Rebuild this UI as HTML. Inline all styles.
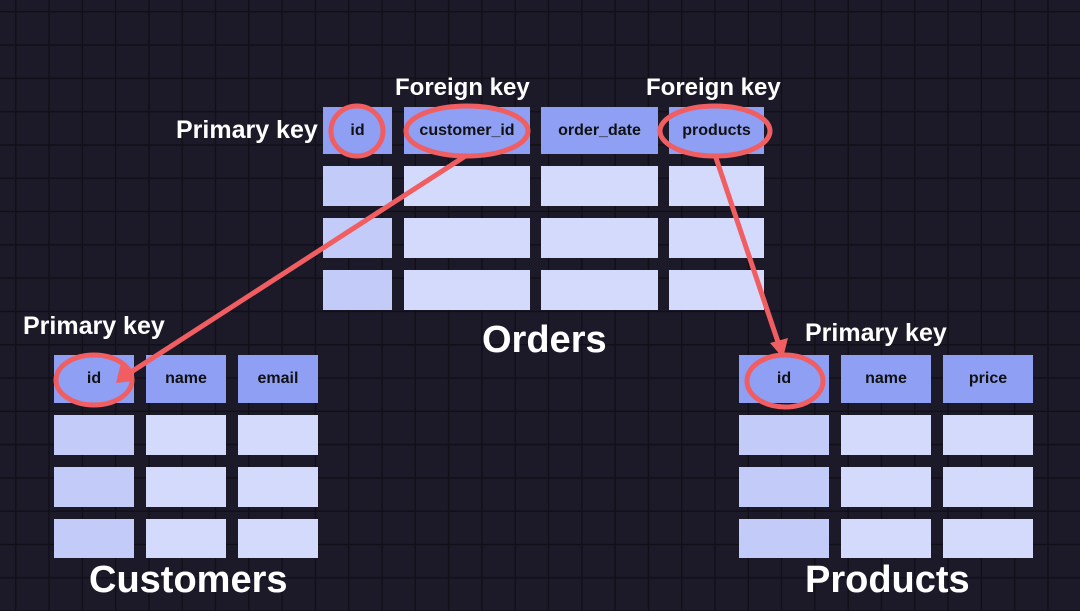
<!DOCTYPE html>
<html><head><style>
body{margin:0;width:1080px;height:611px;overflow:hidden;background:#1c1a28;
background-image:linear-gradient(#111018 1.5px,transparent 1.5px),linear-gradient(90deg,#111018 1.5px,transparent 1.5px);
background-size:33.3px 33.3px;background-position:15px 11px;font-family:"Liberation Sans",sans-serif;position:relative}
.c{position:absolute;background:#d3dafc}
.f{background:#c3cbf8}
.h{background:#8e9ff4;display:flex;align-items:center;justify-content:center;font-weight:bold;font-size:16px;color:#111}
.t{position:absolute;color:#fff;font-weight:bold;white-space:nowrap}
</style></head><body>
<!-- Orders -->
<div class="c h" style="left:323px;top:107px;width:69px;height:47px">id</div>
<div class="c h" style="left:404px;top:107px;width:126px;height:47px">customer_id</div>
<div class="c h" style="left:541px;top:107px;width:117px;height:47px">order_date</div>
<div class="c h" style="left:669px;top:107px;width:95px;height:47px">products</div>
<div class="c f" style="left:323px;top:166px;width:69px;height:40px"></div><div class="c" style="left:404px;top:166px;width:126px;height:40px"></div><div class="c" style="left:541px;top:166px;width:117px;height:40px"></div><div class="c" style="left:669px;top:166px;width:95px;height:40px"></div>
<div class="c f" style="left:323px;top:218px;width:69px;height:40px"></div><div class="c" style="left:404px;top:218px;width:126px;height:40px"></div><div class="c" style="left:541px;top:218px;width:117px;height:40px"></div><div class="c" style="left:669px;top:218px;width:95px;height:40px"></div>
<div class="c f" style="left:323px;top:270px;width:69px;height:40px"></div><div class="c" style="left:404px;top:270px;width:126px;height:40px"></div><div class="c" style="left:541px;top:270px;width:117px;height:40px"></div><div class="c" style="left:669px;top:270px;width:95px;height:40px"></div>
<!-- Customers -->
<div class="c h" style="left:54px;top:355px;width:80px;height:48px">id</div>
<div class="c h" style="left:146px;top:355px;width:80px;height:48px">name</div>
<div class="c h" style="left:238px;top:355px;width:80px;height:48px">email</div>
<div class="c f" style="left:54px;top:415px;width:80px;height:40px"></div><div class="c" style="left:146px;top:415px;width:80px;height:40px"></div><div class="c" style="left:238px;top:415px;width:80px;height:40px"></div>
<div class="c f" style="left:54px;top:467px;width:80px;height:40px"></div><div class="c" style="left:146px;top:467px;width:80px;height:40px"></div><div class="c" style="left:238px;top:467px;width:80px;height:40px"></div>
<div class="c f" style="left:54px;top:519px;width:80px;height:39px"></div><div class="c" style="left:146px;top:519px;width:80px;height:39px"></div><div class="c" style="left:238px;top:519px;width:80px;height:39px"></div>
<!-- Products -->
<div class="c h" style="left:739px;top:355px;width:90px;height:48px">id</div>
<div class="c h" style="left:841px;top:355px;width:90px;height:48px">name</div>
<div class="c h" style="left:943px;top:355px;width:90px;height:48px">price</div>
<div class="c f" style="left:739px;top:415px;width:90px;height:40px"></div><div class="c" style="left:841px;top:415px;width:90px;height:40px"></div><div class="c" style="left:943px;top:415px;width:90px;height:40px"></div>
<div class="c f" style="left:739px;top:467px;width:90px;height:40px"></div><div class="c" style="left:841px;top:467px;width:90px;height:40px"></div><div class="c" style="left:943px;top:467px;width:90px;height:40px"></div>
<div class="c f" style="left:739px;top:519px;width:90px;height:39px"></div><div class="c" style="left:841px;top:519px;width:90px;height:39px"></div><div class="c" style="left:943px;top:519px;width:90px;height:39px"></div>
<!-- labels -->
<div class="t" style="left:395px;top:74px;font-size:24px">Foreign key</div>
<div class="t" style="left:646px;top:74px;font-size:24px">Foreign key</div>
<div class="t" style="left:176px;top:116px;font-size:25px">Primary key</div>
<div class="t" style="left:23px;top:312px;font-size:25px">Primary key</div>
<div class="t" style="left:805px;top:319px;font-size:25px">Primary key</div>
<div class="t" style="left:482px;top:319px;font-size:38px">Orders</div>
<div class="t" style="left:89px;top:559px;font-size:38px">Customers</div>
<div class="t" style="left:805px;top:559px;font-size:38px">Products</div>
<svg width="1080" height="611" style="position:absolute;left:0;top:0">
<g fill="none" stroke="#f05e62" stroke-width="5">
<ellipse cx="357" cy="131" rx="26" ry="25"/>
<ellipse cx="467" cy="131" rx="61" ry="25"/>
<ellipse cx="715" cy="131" rx="55" ry="25"/>
<ellipse cx="94" cy="380" rx="38" ry="25"/>
<ellipse cx="785" cy="381" rx="38" ry="26"/>
<line x1="467" y1="155" x2="128" y2="374"/>
<line x1="715" y1="155" x2="779" y2="345"/>
</g>
<g fill="#f05e62">
<polygon points="116,383 121,363 134,381"/>
<polygon points="783,358 770,343 788,338"/>
</g>
</svg>
</body></html>
